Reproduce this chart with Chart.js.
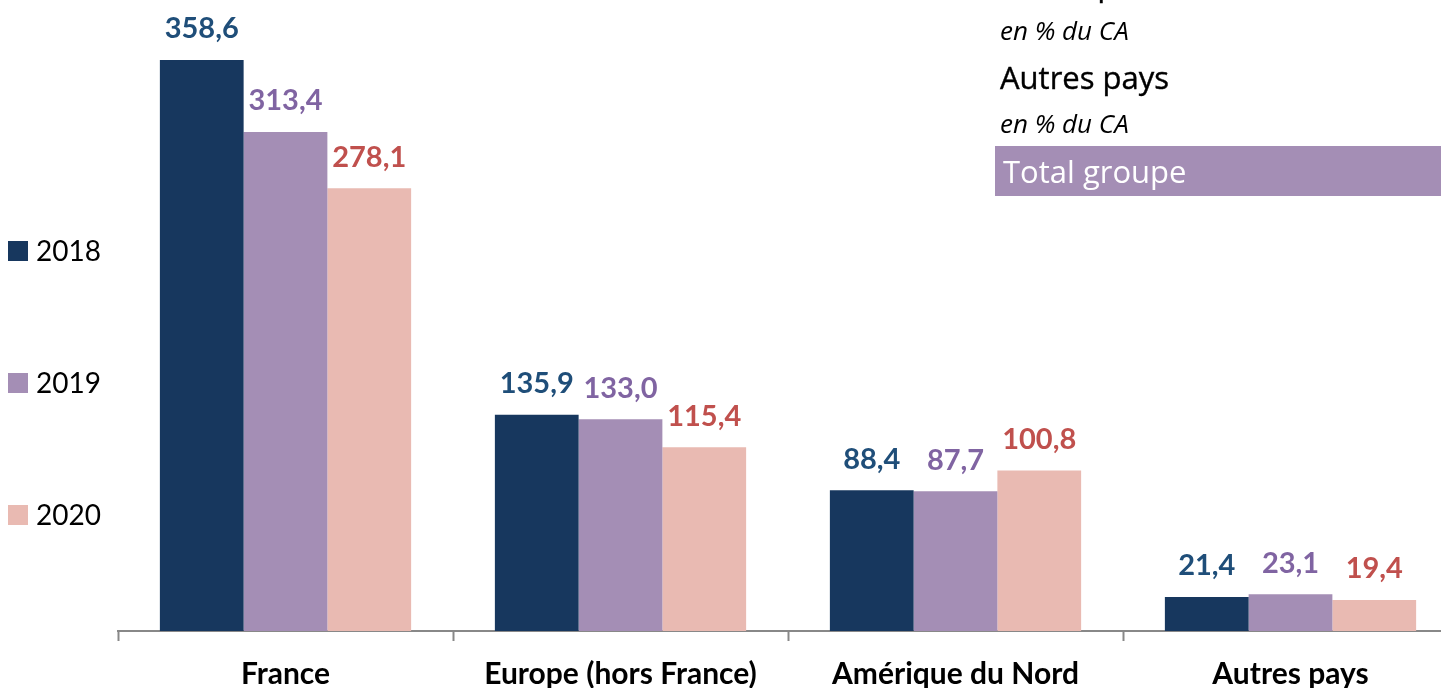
<!DOCTYPE html>
<html>
<head>
<meta charset="utf-8">
<script src="https://cdn.jsdelivr.net/npm/chart.js@4.4.0/dist/chart.umd.min.js"></script>
<style>
  html, body { margin: 0; padding: 0; background: #fff; overflow: hidden; }
  #clip { position: relative; width: 1441px; height: 688px; overflow: hidden; }
  #wrap { position: absolute; left: 0; top: 0; width: 1460px; height: 707px; }
  #side { position: absolute; left: 995px; top: 0; width: 446px; height: 200px; font-family: "Open Sans", Lato, sans-serif; }
  #side div { position: absolute; left: 5px; white-space: nowrap; color: #000; height: 40px; line-height: 40px; }
  .it { font-style: italic; font-size: 26px; }
  .hd { font-size: 31px; -webkit-text-stroke: 0.4px #000; }
  #tot { left: 0 !important; width: 446px; height: 50px !important; background: #a48eb5; color: #fff !important; }
  #tot span { position: absolute; left: 8px; top: 5px; font-size: 31px; line-height: 40px; }
</style>
</head>
<body>
<div id="clip">
<div id="wrap">
  <canvas id="chart"></canvas>
</div>
  <div id="side">
    <div class="hd" style="top:-36px">Amérique du Nord</div>
    <div class="it" style="top:10px">en % du CA</div>
    <div class="hd" style="top:57px">Autres pays</div>
    <div class="it" style="top:103px">en % du CA</div>
    <div id="tot" style="top:146px"><span>Total groupe</span></div>
  </div>
</div>
<script>
var categories = ['France', 'Europe (hors France)', 'Amérique du Nord', 'Autres pays'];
var years = ['2018', '2019', '2020'];
var v2018 = [358.6, 135.9, 88.4, 21.4];
var v2019 = [313.4, 133.0, 87.7, 23.1];
var v2020 = [278.1, 115.4, 100.8, 19.4];

var barColors = ['#17375e', '#a48eb5', '#e9bab2'];
var labelColors = ['#1f4e79', '#8064a2', '#c0504d'];
var series = [v2018, v2019, v2020];

var fmt = function(v) { return v.toFixed(1).replace('.', ','); };

// values above the bars
var valueLabels = {
	id: 'valueLabels',
	afterDatasetsDraw: function(chart) {
		var ctx = chart.ctx;
		ctx.save();
		ctx.font = 'bold 29px Lato, "Open Sans", sans-serif';
		ctx.textAlign = 'center';
		ctx.textBaseline = 'middle';
		chart.data.datasets.forEach(function(ds, i) {
			var meta = chart.getDatasetMeta(i);
			ctx.fillStyle = labelColors[i];
			meta.data.forEach(function(bar, j) {
				ctx.fillText(fmt(ds.data[j]), bar.x, bar.y - 31);
			});
		});
		ctx.restore();
	}
};

// vertical legend on the left, widely spaced
var sideLegend = {
	id: 'sideLegend',
	afterDraw: function(chart) {
		var ctx = chart.ctx;
		var ys = [251, 383, 515];
		ctx.save();
		ctx.font = '28px Lato, "Open Sans", sans-serif';
		ctx.textBaseline = 'middle';
		chart.data.datasets.forEach(function(ds, i) {
			ctx.fillStyle = ds.backgroundColor;
			ctx.fillRect(8, ys[i] - 10, 20, 20);
			ctx.fillStyle = '#000';
			ctx.fillText(ds.label, 36, ys[i] + 1);
		});
		ctx.restore();
	}
};

var ctx = document.getElementById('chart');
var chart = new Chart(ctx, {
	type: 'bar',
	data: {
		labels: categories,
		datasets: years.map(function(y, i) {
			return {
				label: y,
				data: series[i],
				backgroundColor: barColors[i],
				categoryPercentage: 0.75,
				barPercentage: 1.0
			};
		})
	},
	options: {
		responsive: true,
		maintainAspectRatio: false,
		animation: false,
		layout: { padding: { left: 118, right: 2, top: 26, bottom: 0 } },
		plugins: {
			legend: { display: false },
			tooltip: { enabled: false }
		},
		scales: {
			x: {
				grid: {
					offset: true,
					drawOnChartArea: false,
					drawTicks: true,
					tickLength: 10,
					tickColor: '#888',
					tickWidth: 2
				},
				border: { color: '#888', width: 2 },
				ticks: {
					color: '#000',
					padding: 15,
					maxRotation: 0,
					autoSkip: false,
					font: { family: 'Lato, "Open Sans", sans-serif', size: 30, weight: 'bold', lineHeight: 1.2 }
				}
			},
			y: {
				display: false,
				min: 0,
				max: 380
			}
		}
	},
	plugins: [valueLabels, sideLegend]
});
</script>
</body>
</html>
